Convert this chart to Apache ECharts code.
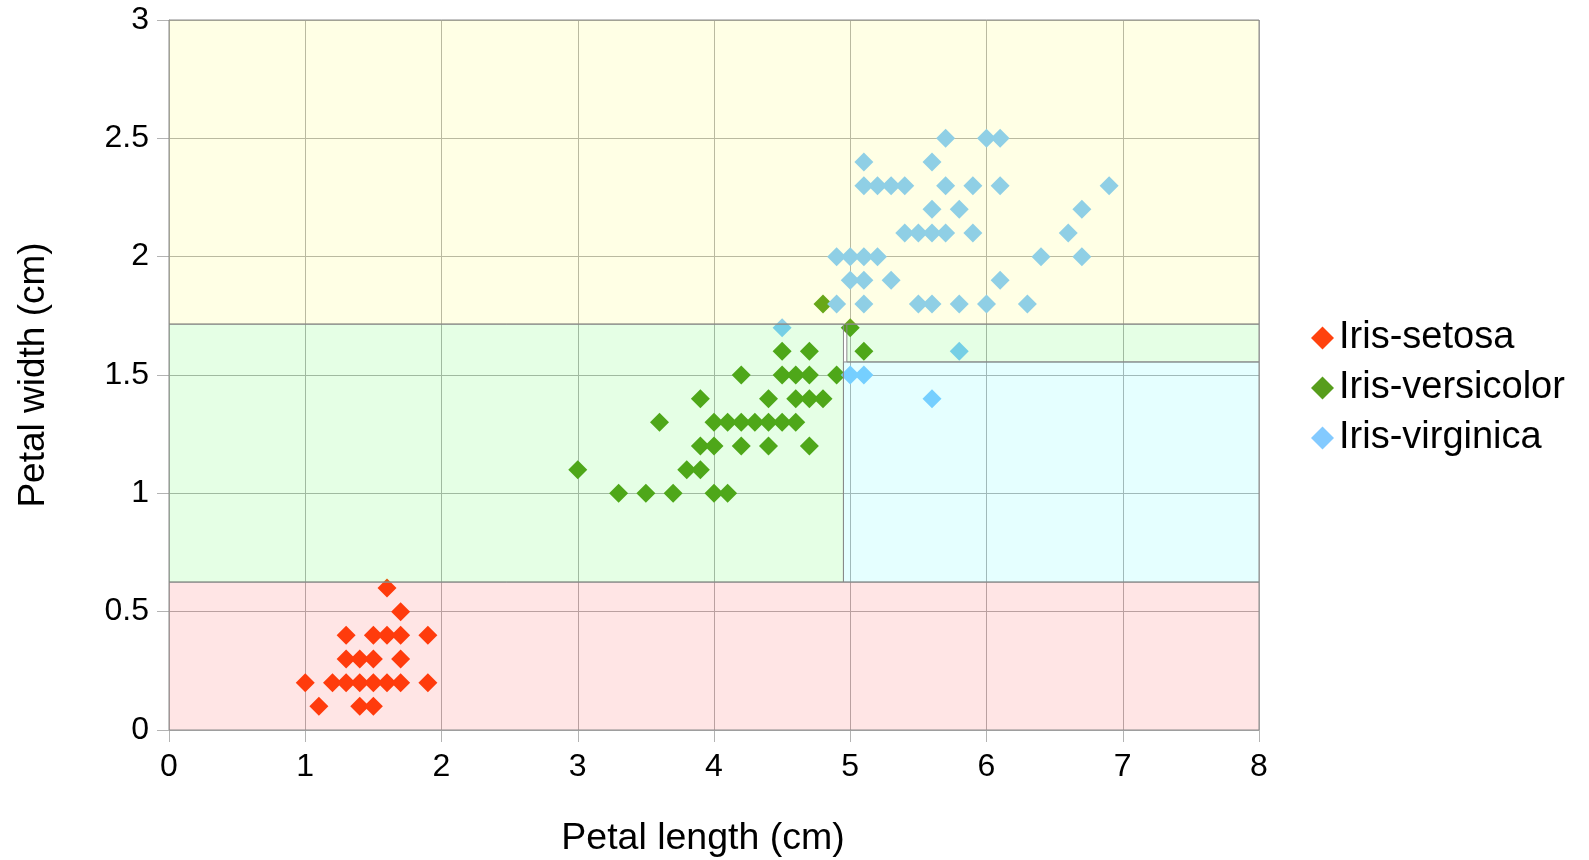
<!DOCTYPE html>
<html>
<head>
<meta charset="utf-8">
<script src="https://cdn.jsdelivr.net/npm/echarts@6/dist/echarts.min.js"></script>
<style>
html,body{margin:0;padding:0;background:#fff;}
#chart{width:1589px;height:860px;}
</style>
</head>
<body>
<div id="chart"></div>
<script>
// Data: [petal length, petal width]
const seriesNames = ['Iris-setosa', 'Iris-versicolor', 'Iris-virginica'];
const setosa = [
  [1.6,0.6],[1.7,0.5],
  [1.3,0.4],[1.5,0.4],[1.6,0.4],[1.7,0.4],[1.9,0.4],
  [1.3,0.3],[1.4,0.3],[1.5,0.3],[1.7,0.3],
  [1.0,0.2],[1.2,0.2],[1.3,0.2],[1.4,0.2],[1.5,0.2],[1.6,0.2],[1.7,0.2],[1.9,0.2],
  [1.1,0.1],[1.4,0.1],[1.5,0.1]
];
const versicolor = [
  [3.0,1.1],[3.8,1.1],[3.9,1.1],
  [3.3,1.0],[3.5,1.0],[3.7,1.0],[4.0,1.0],[4.1,1.0],
  [3.9,1.2],[4.0,1.2],[4.2,1.2],[4.4,1.2],[4.7,1.2],
  [3.6,1.3],[4.0,1.3],[4.1,1.3],[4.2,1.3],[4.3,1.3],[4.4,1.3],[4.5,1.3],[4.6,1.3],
  [3.9,1.4],[4.4,1.4],[4.6,1.4],[4.7,1.4],[4.8,1.4],
  [4.2,1.5],[4.5,1.5],[4.6,1.5],[4.7,1.5],[4.9,1.5],
  [4.5,1.6],[4.7,1.6],[5.1,1.6],
  [5.0,1.7],[4.8,1.8]
];
const virginica = [
  [5.7,2.5],[6.0,2.5],[6.1,2.5],
  [5.1,2.4],[5.6,2.4],
  [5.1,2.3],[5.2,2.3],[5.3,2.3],[5.4,2.3],[5.7,2.3],[5.9,2.3],[6.1,2.3],[6.9,2.3],
  [5.6,2.2],[5.8,2.2],[6.7,2.2],
  [5.4,2.1],[5.5,2.1],[5.6,2.1],[5.7,2.1],[5.9,2.1],[6.6,2.1],
  [4.9,2.0],[5.0,2.0],[5.1,2.0],[5.2,2.0],[6.4,2.0],[6.7,2.0],
  [5.0,1.9],[5.1,1.9],[5.3,1.9],[6.1,1.9],
  [4.9,1.8],[5.1,1.8],[5.5,1.8],[5.6,1.8],[5.8,1.8],[6.0,1.8],[6.3,1.8],
  [4.5,1.7],[5.8,1.6],[5.0,1.5],[5.1,1.5],[5.6,1.4]
];
// Decision regions: [x0, y0, x1, y1, class index]
const regions = [
  [0, 0, 8, 0.625, 0],
  [0, 0.625, 4.95, 1.715, 1],
  [4.975, 1.555, 8, 1.715, 1],
  [4.95, 0.625, 8, 1.555, 2],
  [0, 1.715, 8, 3, 3]
];
const xTicks = [0,1,2,3,4,5,6,7,8];
const yTicks = [0,0.5,1,1.5,2,2.5,3];

const markerColors = ['#ff420e', '#579d1c', '#83caff'];
const regionFills = ['rgba(255,0,0,0.1)', 'rgba(0,255,0,0.1)', 'rgba(0,255,255,0.1)', 'rgba(255,255,0,0.1)'];
const FONT = 'Liberation Sans, Arial, sans-serif';

const chart = echarts.init(document.getElementById('chart'));
const scatterData = [setosa, versicolor, virginica];

const series = seriesNames.map((name, i) => ({
  name: name,
  type: 'scatter',
  symbol: 'diamond',
  symbolSize: 19,
  data: scatterData[i],
  itemStyle: { color: markerColors[i], opacity: 1 },
  z: 2
}));

series.push({
  name: 'regions',
  type: 'custom',
  z: 5,
  silent: true,
  data: regions,
  encode: { x: [0, 2], y: [1, 3] },
  renderItem: function (params, api) {
    const p0 = api.coord([api.value(0), api.value(3)]);
    const p1 = api.coord([api.value(2), api.value(1)]);
    const idx = api.value(4);
    return {
      type: 'rect',
      shape: { x: p0[0], y: p0[1], width: p1[0] - p0[0], height: p1[1] - p0[1] },
      style: { fill: regionFills[idx], stroke: '#8a8a8a', lineWidth: 1 }
    };
  }
});

chart.setOption({
  animation: false,
  textStyle: { fontFamily: FONT },
  grid: { left: 169, top: 20, width: 1090, height: 710, containLabel: false, outerBoundsMode: 'none' },
  legend: {
    data: seriesNames,
    orient: 'vertical',
    left: 1306,
    top: 314,
    itemWidth: 23,
    itemHeight: 23,
    itemGap: 12,
    textStyle: { fontFamily: FONT, fontSize: 38, color: '#000' }
  },
  xAxis: {
    type: 'value',
    min: 0, max: 8, interval: 1,
    name: 'Petal length (cm)',
    nameLocation: 'middle',
    nameGap: 90,
    nameTextStyle: { fontFamily: FONT, fontSize: 37.5, color: '#000', padding: [0, 22, 0, 0] },
    axisLine: { show: true, lineStyle: { color: '#b3b3b3', width: 1 } },
    axisTick: { show: true, length: 12, lineStyle: { color: '#b3b3b3' } },
    axisLabel: { fontFamily: FONT, fontSize: 32, color: '#000', margin: 21,
      formatter: v => xTicks.includes(v) ? String(v) : '' },
    splitLine: { show: true, lineStyle: { color: '#b3b3b3', width: 1 } }
  },
  yAxis: {
    type: 'value',
    min: 0, max: 3, interval: 0.5,
    name: 'Petal width (cm)',
    nameLocation: 'middle',
    nameGap: 117,
    nameTextStyle: { fontFamily: FONT, fontSize: 37, color: '#000' },
    axisLine: { show: true, lineStyle: { color: '#b3b3b3', width: 1 } },
    axisTick: { show: true, length: 12, lineStyle: { color: '#b3b3b3' } },
    axisLabel: { fontFamily: FONT, fontSize: 32, color: '#000', margin: 20,
      formatter: v => yTicks.includes(v) ? String(v) : '' },
    splitLine: { show: true, lineStyle: { color: '#b3b3b3', width: 1 } }
  },
  series: series
});
</script>
</body>
</html>
